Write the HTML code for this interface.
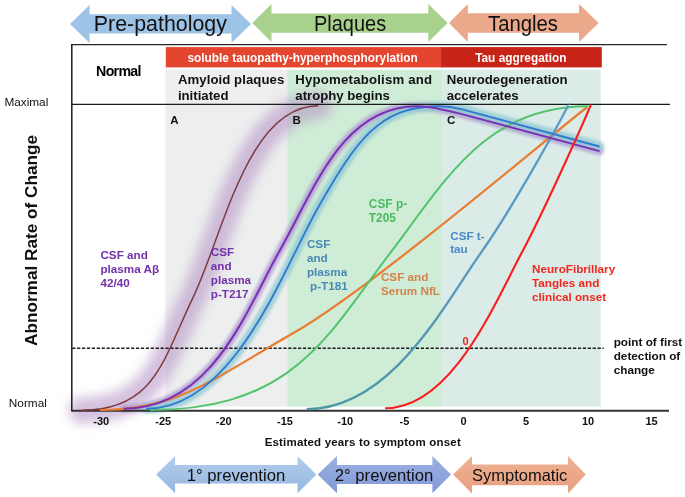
<!DOCTYPE html>
<html><head><meta charset="utf-8"><style>
html,body{margin:0;padding:0;background:#fff;}
body{width:685px;height:497px;overflow:hidden;font-family:"Liberation Sans",sans-serif;}
svg{display:block;will-change:transform;}
</style></head><body>
<svg width="685" height="497" viewBox="0 0 685 497">
<defs>
<filter id="gb" x="-20%" y="-20%" width="140%" height="140%"><feGaussianBlur stdDeviation="5.5"/></filter>
<filter id="gs" x="-20%" y="-20%" width="140%" height="140%"><feGaussianBlur stdDeviation="1.6"/></filter>
<linearGradient id="g1" x1="0" y1="0" x2="0" y2="1"><stop offset="0" stop-color="#b3cdec"/><stop offset="1" stop-color="#95b7e1"/></linearGradient>
<linearGradient id="g2" x1="0" y1="0" x2="0" y2="1"><stop offset="0" stop-color="#9cb0e2"/><stop offset="1" stop-color="#8299d6"/></linearGradient>
<linearGradient id="g3" x1="0" y1="0" x2="0" y2="1"><stop offset="0" stop-color="#f0b294"/><stop offset="1" stop-color="#e79f7f"/></linearGradient>
<linearGradient id="gst" gradientUnits="userSpaceOnUse" x1="0" y1="409" x2="0" y2="104"><stop offset="0" stop-color="#4e97a4"/><stop offset="0.5" stop-color="#5898c0"/><stop offset="1" stop-color="#5c9ccb"/></linearGradient>
</defs>
<polygon points="70.0,24.0 89.6,5.0 89.6,14.2 231.5,14.2 231.5,5.0 251.0,24.0 231.5,43.0 231.5,33.5 89.6,33.5 89.6,43.0" fill="#9dc3e6"/>
<polygon points="252.2,23.1 271.5,4.1 271.5,13.4 428.3,13.4 428.3,4.1 447.7,23.1 428.3,42.1 428.3,32.7 271.5,32.7 271.5,42.1" fill="#a9d18e"/>
<polygon points="449.0,23.1 467.8,4.1 467.8,13.3 579.0,13.3 579.0,4.1 598.7,23.1 579.0,42.1 579.0,32.7 467.8,32.7 467.8,42.1" fill="#eaa98b"/>
<text x="93.8" y="31.4" font-size="21.8" textLength="133.1" lengthAdjust="spacingAndGlyphs" font-family="Liberation Sans, sans-serif" fill="#111">Pre-pathology</text>
<text x="314" y="30.8" font-size="21.8" textLength="72.2" lengthAdjust="spacingAndGlyphs" font-family="Liberation Sans, sans-serif" fill="#111">Plaques</text>
<text x="488" y="30.8" font-size="21.8" textLength="70" lengthAdjust="spacingAndGlyphs" font-family="Liberation Sans, sans-serif" fill="#111">Tangles</text>
<rect x="165.4" y="69.8" width="123" height="336.8" fill="#edeeee"/>
<rect x="287.5" y="69.8" width="155" height="336.8" fill="#cfecd6"/>
<rect x="441.6" y="69.8" width="159.2" height="336.8" fill="#dbebe8"/>
<rect x="165.8" y="47.1" width="276.5" height="20.3" fill="#e4452f"/>
<rect x="441.2" y="47.1" width="160.6" height="20.3" fill="#c72317"/>
<text x="302.6" y="61.6" text-anchor="middle" font-size="11.85" font-weight="bold" font-family="Liberation Sans, sans-serif" fill="#fff">soluble tauopathy-hyperphosphorylation</text>
<text x="520.8" y="61.6" text-anchor="middle" font-size="11.85" font-weight="bold" font-family="Liberation Sans, sans-serif" fill="#fff">Tau aggregation</text>
<path d="M82.0 410.2 C154.9 410.2 162.9 359.9 193.0 297.6 C222.9 235.7 247.2 105.8 318.2 105.8" fill="none" stroke="#b898c8" stroke-opacity="0.6" stroke-width="27" stroke-linecap="round" filter="url(#gb)"/>
<path d="M123.5 408.7 C213.2 408.7 246.5 309.0 280.2 249.7 C314.0 190.3 342.0 106.2 417.0 106.2 C430 106.2 445 109.7 460 113.6 L599.5 151.1" fill="none" stroke="#ae9ad0" stroke-opacity="0.8" stroke-width="8" stroke-linecap="round" filter="url(#gs)"/>
<path d="M146.3 408.7 C235.5 408.7 283.9 266.5 319.4 205.2 C355.6 142.5 378.4 106.2 438.0 106.2 C452 106.2 458 108.2 465 110.1 L599.5 146.5" fill="none" stroke="#92cad3" stroke-opacity="0.8" stroke-width="10" stroke-linecap="round" filter="url(#gs)"/>
<text x="96.1" y="75.6" font-size="14.2" font-weight="bold" letter-spacing="-0.7" font-family="Liberation Sans, sans-serif" fill="#000">Normal</text>
<text font-family="Liberation Sans, sans-serif" font-size="13.2" font-weight="bold" fill="#111"><tspan x="177.9" y="84.2" textLength="106.4" lengthAdjust="spacing">Amyloid plaques</tspan><tspan x="177.9" y="99.8">initiated</tspan></text>
<text font-family="Liberation Sans, sans-serif" font-size="13.2" font-weight="bold" fill="#111"><tspan x="295.3" y="84.2" textLength="136.8" lengthAdjust="spacing">Hypometabolism and</tspan><tspan x="295.3" y="99.8">atrophy begins</tspan></text>
<text font-family="Liberation Sans, sans-serif" font-size="13.2" font-weight="bold" fill="#111"><tspan x="446.7" y="84.2">Neurodegeneration</tspan><tspan x="446.7" y="99.8">accelerates</tspan></text>
<line x1="72" y1="44.6" x2="667" y2="44.6" stroke="#262626" stroke-width="1.4"/>
<line x1="72" y1="104.4" x2="670" y2="104.4" stroke="#1c1c1c" stroke-width="1.4"/>
<line x1="71.8" y1="44" x2="71.8" y2="411.5" stroke="#1c1c1c" stroke-width="1.5"/>
<line x1="72.2" y1="348.2" x2="603.8" y2="348.2" stroke="#1a1a1a" stroke-width="1.5" stroke-dasharray="3.2 1.71"/>
<line x1="72" y1="410.8" x2="669" y2="410.8" stroke="#333" stroke-width="1.9"/>
<path d="M82.0 410.2 C154.9 410.2 162.9 359.9 193.0 297.6 C222.9 235.7 247.2 105.8 318.2 105.8" fill="none" stroke="#7e3a40" stroke-width="1.5"/>
<path d="M100.0 410.0 C177.1 410.0 211.0 380.2 294.7 332.3 C375.0 286.3 573.6 115.9 587.2 107.2" fill="none" stroke="#ea7b30" stroke-width="2.2"/>
<path d="M150.0 410.0 C295.5 410.0 329.1 332.8 391.0 251.9 C445.4 180.8 484.7 106.2 588.2 106.2" fill="none" stroke="#52c46a" stroke-width="2.0"/>
<path d="M306.6 409.1 C391.0 409.1 443.4 306.0 480.9 252.8 C518.5 199.4 569.2 104.0 568.8 104.5" fill="none" stroke="url(#gst)" stroke-width="2.3"/>
<path d="M146.3 408.7 C235.5 408.7 283.9 266.5 319.4 205.2 C355.6 142.5 378.4 106.2 438.0 106.2 C452 106.2 458 108.2 465 110.1 L599.5 146.5" fill="none" stroke="#3279d2" stroke-width="1.9"/>
<path d="M123.5 408.7 C213.2 408.7 246.5 309.0 280.2 249.7 C314.0 190.3 342.0 106.2 417.0 106.2 C430 106.2 445 109.7 460 113.6 L599.5 151.1" fill="none" stroke="#7a2fb6" stroke-width="2.0"/>
<path d="M385.1 408.3 C450.7 408.3 492.6 307.7 520.8 254.6 C548.5 202.5 590.2 107.2 590.8 104.5" fill="none" stroke="#fb1d1d" stroke-width="2.1"/>
<text x="170.3" y="123.6" font-size="11.5" font-weight="bold" font-family="Liberation Sans, sans-serif" fill="#111">A</text>
<text x="292.5" y="123.6" font-size="11.5" font-weight="bold" font-family="Liberation Sans, sans-serif" fill="#111">B</text>
<text x="446.9" y="123.6" font-size="11.5" font-weight="bold" font-family="Liberation Sans, sans-serif" fill="#111">C</text>
<text font-family="Liberation Sans, sans-serif" font-size="11.70" font-weight="bold" fill="#7232aa"><tspan x="100.4" y="259.4">CSF and</tspan><tspan x="100.4" y="273.4">plasma A&#946;</tspan><tspan x="100.4" y="287.4">42/40</tspan></text>
<text font-family="Liberation Sans, sans-serif" font-size="11.70" font-weight="bold" fill="#7232aa"><tspan x="210.8" y="255.5">CSF</tspan><tspan x="210.8" y="269.7">and</tspan><tspan x="210.8" y="283.9">plasma</tspan><tspan x="210.8" y="298.1">p-T217</tspan></text>
<text font-family="Liberation Sans, sans-serif" font-size="11.70" font-weight="bold" fill="#4a89b5"><tspan x="306.9" y="247.8">CSF</tspan><tspan x="306.9" y="262.0">and</tspan><tspan x="306.9" y="276.2">plasma</tspan><tspan x="310.1" y="290.4">p-T181</tspan></text>
<text font-family="Liberation Sans, sans-serif" font-size="11.90" font-weight="bold" fill="#4bbb5e"><tspan x="368.8" y="208.0">CSF p-</tspan><tspan x="368.8" y="221.5">T205</tspan></text>
<text font-family="Liberation Sans, sans-serif" font-size="11.70" font-weight="bold" fill="#4a8ac8"><tspan x="450.2" y="239.6">CSF t-</tspan><tspan x="450.2" y="253.2">tau</tspan></text>
<text font-family="Liberation Sans, sans-serif" font-size="11.70" font-weight="bold" fill="#d4834c"><tspan x="380.9" y="280.7">CSF and</tspan><tspan x="380.9" y="294.5">Serum NfL</tspan></text>
<text font-family="Liberation Sans, sans-serif" font-size="11.70" font-weight="bold" fill="#f0281e"><tspan x="532.0" y="272.6">NeuroFibrillary</tspan><tspan x="532.0" y="286.7">Tangles and</tspan><tspan x="532.0" y="300.8">clinical onset</tspan></text>
<text font-family="Liberation Sans, sans-serif" font-size="11.75" font-weight="bold" fill="#111"><tspan x="613.7" y="345.8">point of first</tspan><tspan x="613.7" y="359.9">detection of</tspan><tspan x="613.7" y="374.0">change</tspan></text>
<text x="462.5" y="345.2" font-size="11" font-weight="bold" font-family="Liberation Sans, sans-serif" fill="#e8231c">0</text>
<text x="4.4" y="105.5" font-size="11.8" font-family="Liberation Sans, sans-serif" fill="#111">Maximal</text>
<text x="8.8" y="407.2" font-size="11.8" font-family="Liberation Sans, sans-serif" fill="#111">Normal</text>
<text transform="translate(37.4,346) rotate(-90)" font-size="17.2" font-weight="bold" font-family="Liberation Sans, sans-serif" fill="#111">Abnormal Rate of Change</text>
<text x="101.2" y="425.1" text-anchor="middle" font-size="11" font-weight="bold" font-family="Liberation Sans, sans-serif" fill="#111">-30</text>
<text x="163.3" y="425.1" text-anchor="middle" font-size="11" font-weight="bold" font-family="Liberation Sans, sans-serif" fill="#111">-25</text>
<text x="223.8" y="425.1" text-anchor="middle" font-size="11" font-weight="bold" font-family="Liberation Sans, sans-serif" fill="#111">-20</text>
<text x="285.0" y="425.1" text-anchor="middle" font-size="11" font-weight="bold" font-family="Liberation Sans, sans-serif" fill="#111">-15</text>
<text x="345.3" y="425.1" text-anchor="middle" font-size="11" font-weight="bold" font-family="Liberation Sans, sans-serif" fill="#111">-10</text>
<text x="404.5" y="425.1" text-anchor="middle" font-size="11" font-weight="bold" font-family="Liberation Sans, sans-serif" fill="#111">-5</text>
<text x="463.5" y="425.1" text-anchor="middle" font-size="11" font-weight="bold" font-family="Liberation Sans, sans-serif" fill="#111">0</text>
<text x="526.0" y="425.1" text-anchor="middle" font-size="11" font-weight="bold" font-family="Liberation Sans, sans-serif" fill="#111">5</text>
<text x="588.0" y="425.1" text-anchor="middle" font-size="11" font-weight="bold" font-family="Liberation Sans, sans-serif" fill="#111">10</text>
<text x="651.5" y="425.1" text-anchor="middle" font-size="11" font-weight="bold" font-family="Liberation Sans, sans-serif" fill="#111">15</text>
<text x="264.7" y="445.6" font-size="11.5" letter-spacing="0.18" font-weight="bold" font-family="Liberation Sans, sans-serif" fill="#111">Estimated years to symptom onset</text>
<polygon points="156.1,474.6 175.1,456.1 175.1,465.1 297.5,465.1 297.5,456.1 316.4,474.6 297.5,493.3 297.5,483.6 175.1,483.6 175.1,493.3" fill="url(#g1)"/>
<polygon points="317.6,474.6 337.0,456.1 337.0,465.1 432.4,465.1 432.4,456.1 451.1,474.6 432.4,493.3 432.4,483.9 337.0,483.9 337.0,493.3" fill="url(#g2)"/>
<polygon points="453.1,474.6 472.0,455.9 472.0,464.6 568.0,464.6 568.0,455.9 585.8,474.6 568.0,493.4 568.0,485.3 472.0,485.3 472.0,493.4" fill="url(#g3)"/>
<text x="236" y="480.5" text-anchor="middle" font-size="16.7" font-family="Liberation Sans, sans-serif" fill="#111">1&#176; prevention</text>
<text x="384" y="480.5" text-anchor="middle" font-size="16.7" font-family="Liberation Sans, sans-serif" fill="#111">2&#176; prevention</text>
<text x="519.7" y="480.5" text-anchor="middle" font-size="16.5" font-family="Liberation Sans, sans-serif" fill="#111">Symptomatic</text>
</svg>
</body></html>
